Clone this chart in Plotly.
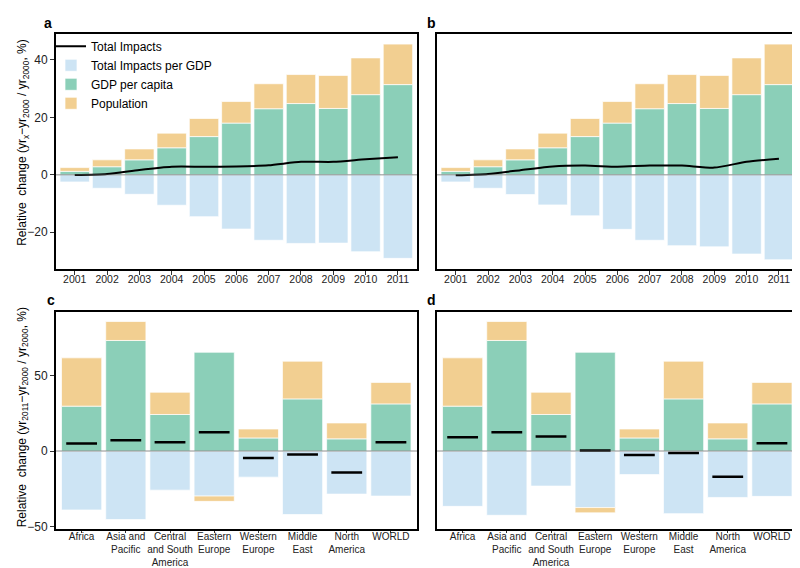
import plotly.graph_objects as go

# ---------------- data ----------------
years = [str(y) for y in range(2001, 2012)]
regions = ["Africa", "Asia and<br>Pacific", "Central<br>and South<br>America", "Eastern<br>Europe",
           "Western<br>Europe", "Middle<br>East", "North<br>America", "WORLD"]

# panels a & b (yearly)
ab_gdp = [1.2, 2.8, 5.2, 9.4, 13.3, 18.0, 23.0, 24.8, 23.1, 27.9, 31.4]
ab_pop = [1.3, 2.4, 3.8, 5.1, 6.3, 7.5, 8.7, 10.1, 11.5, 12.8, 14.1]
a_int = [-2.5, -4.7, -6.8, -10.6, -14.6, -18.9, -22.8, -23.9, -23.8, -26.8, -29.1]
a_tot = [-0.1, 0.3, 1.7, 2.8, 2.8, 2.9, 3.3, 4.5, 4.5, 5.4, 6.1]
b_int = [-2.5, -4.7, -6.9, -10.5, -14.3, -19.0, -22.8, -24.7, -25.1, -27.6, -29.6]
b_tot = [-0.2, 0.3, 1.6, 2.9, 3.2, 2.8, 3.2, 3.2, 2.5, 4.5, 5.6]

# panels c & d (regions, 2011 vs 2000)
cd_gdp = [29.7, 73.1, 24.2, 65.3, 8.7, 34.5, 8.1, 31.2]
cd_pop = [31.9, 12.5, 14.7, -3.5, 5.9, 24.9, 10.5, 14.2]
c_int = [-38.9, -45.2, -25.8, -29.7, -17.2, -41.9, -28.4, -29.7]
c_tot = [5.0, 7.2, 5.9, 12.4, -4.6, -2.2, -14.2, 5.9]
d_int = [-36.5, -42.4, -23.1, -37.3, -15.5, -41.3, -30.6, -29.9]
d_tot = [9.2, 12.4, 9.6, 0.4, -2.6, -1.3, -17.0, 5.2]

# ---------------- style ----------------
C_INT = "#cde4f4"
C_GDP = "#8bcfb8"
C_POP = "#f2cf91"
EDGE = dict(color="rgba(255,255,255,0.7)", width=1)
FONT = "Liberation Sans, Arial, Helvetica, sans-serif"

W, H = 800, 568
def px_x(p):
    return p / W
def px_y(p):
    return 1 - p / H

fig = go.Figure()

panels = [
    ("", years, a_int, ab_gdp, ab_pop, a_tot, "line", True),
    ("2", years, b_int, ab_gdp, ab_pop, b_tot, "line", False),
    ("3", regions, c_int, cd_gdp, cd_pop, c_tot, "dash", False),
    ("4", regions, d_int, cd_gdp, cd_pop, d_tot, "dash", False),
]

for suf, cats, inten, gdp, pop, tot, kind, sl in panels:
    xa, ya = "x" + suf, "y" + suf
    fig.add_trace(go.Bar(x=cats, y=inten, name="Total Impacts per GDP", marker=dict(color=C_INT, line=EDGE),
                         xaxis=xa, yaxis=ya, showlegend=sl, legendrank=2))
    fig.add_trace(go.Bar(x=cats, y=gdp, name="GDP per capita", marker=dict(color=C_GDP, line=EDGE),
                         xaxis=xa, yaxis=ya, showlegend=sl, legendrank=3))
    fig.add_trace(go.Bar(x=cats, y=pop, name="Population", marker=dict(color=C_POP, line=EDGE),
                         xaxis=xa, yaxis=ya, showlegend=sl, legendrank=4))
    if kind == "line":
        fig.add_trace(go.Scatter(x=cats, y=tot, mode="lines", name="Total Impacts",
                                 line=dict(color="black", width=2, shape="spline", smoothing=0.6),
                                 xaxis=xa, yaxis=ya, showlegend=sl, legendrank=1))
    else:
        fig.add_trace(go.Scatter(x=cats, y=tot, mode="markers", name="Total Impacts",
                                 marker=dict(symbol="line-ew", size=22, line=dict(color="black", width=2.5)),
                                 xaxis=xa, yaxis=ya, showlegend=False))

dom = {
    "": ((48, 409), (26, 263)),
    "2": ((429, 790), (26, 263)),
    "3": ((48, 409), (307, 526)),
    "4": ((429, 790), (307, 526)),
}

axis_common = dict(showline=True, linecolor="black", linewidth=2, mirror=True, showgrid=False,
                   zeroline=False, ticks="outside", ticklen=4, tickwidth=1, tickcolor="#333")

layout = {}
for suf, ((x0, x1), (y0, y1)) in dom.items():
    top = suf in ("", "2")
    n = 11 if top else 8
    layout["xaxis" + suf] = dict(axis_common, domain=[px_x(x0), px_x(x1)], anchor="y" + suf,
                                 range=[-0.58, n - 1 + 0.59], type="category", tickangle=0,
                                 ticklen=4 if top else 2,
                                 ticklabelstandoff=-4 if top else -5,
                                 tickfont=dict(size=10.5 if top else 10, color="#222", family=FONT))
    yr = [-32.7, 49.1] if top else [-51.7, 91.7]
    tv = [-20, 0, 20, 40] if top else [-50, 0, 50]
    show_lbl = suf in ("", "3")
    layout["yaxis" + suf] = dict(axis_common, domain=[px_y(y1), px_y(y0)], anchor="x" + suf, range=yr,
                                 tickvals=tv, showticklabels=show_lbl, ticks="outside" if show_lbl else "",
                                 tickfont=dict(size=12, color="#222", family=FONT))
fig.update_layout(**layout)

for suf in ["", "2", "3", "4"]:
    xr = "x" + suf + " domain"
    fig.add_shape(type="line", xref=xr, yref="y" + suf, x0=0, x1=1, y0=0, y1=0,
                  line=dict(color="rgba(90,90,90,0.45)", width=1.5), layer="above")

for lbl, (x, y) in {"a": (40, 15), "b": (423, 15), "c": (43, 295), "d": (423, 295)}.items():
    fig.add_annotation(text="<b>%s</b>" % lbl, x=px_x(x), y=px_y(y), xref="paper", yref="paper",
                       showarrow=False, xanchor="center", yanchor="middle",
                       font=dict(size=14, color="black", family=FONT))

fig.add_annotation(text="Relative  change (yr<sub>x</sub>−yr<sub>2000</sub> / yr<sub>2000</sub>, %)",
                   x=px_x(15), y=px_y(136), xref="paper", yref="paper", textangle=-90,
                   showarrow=False, xanchor="center", yanchor="middle",
                   font=dict(size=12, color="black", family=FONT))
fig.add_annotation(text="Relative  change (yr<sub>2011</sub>−yr<sub>2000</sub> / yr<sub>2000</sub>, %)",
                   x=px_x(15), y=px_y(413), xref="paper", yref="paper", textangle=-90,
                   showarrow=False, xanchor="center", yanchor="middle",
                   font=dict(size=12, color="black", family=FONT))

fig.update_layout(
    width=W, height=H, margin=dict(l=0, r=0, t=0, b=0),
    paper_bgcolor="white", plot_bgcolor="white",
    barmode="relative", bargap=0.09,
    font=dict(family=FONT, color="black"),
    legend=dict(x=px_x(43), y=px_y(24), xanchor="left", yanchor="top", bgcolor="rgba(0,0,0,0)",
                font=dict(size=12, family=FONT), tracegroupgap=0, itemwidth=30, traceorder="normal"),
)

fig.write_html("out.html")
